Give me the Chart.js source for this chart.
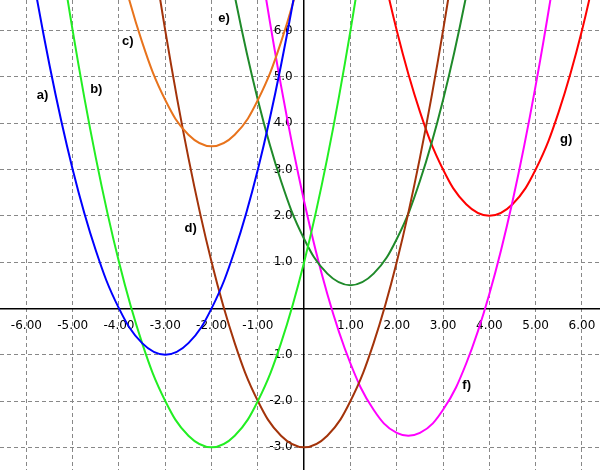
<!DOCTYPE html>
<html>
<head>
<meta charset="utf-8">
<script src="https://cdn.jsdelivr.net/npm/chart.js@4"></script>
<style>
  html, body { margin: 0; padding: 0; background: #fff; }
  #wrap { width: 600px; height: 470px; }
</style>
</head>
<body>
<div id="wrap"><canvas id="myParabolas" width="600" height="470"></canvas></div>
<script>
// sample x positions shared by all curves
var xs = [-6.5, -6, -5.5, -5, -4.5, -4, -3.5, -3, -2.5, -2, -1.5, -1, -0.5, 0,
          0.5, 1, 1.5, 2, 2.5, 3, 3.5, 4, 4.5, 5, 5.5, 6, 6.5];

// curve values (null = off the chart)
var a_values = [11.25, 8, 5.25, 3, 1.25, 0, -0.75, -1, -0.75, 0, 1.25, 3, 5.25, 8,
                11.25, null, null, null, null, null, null, null, null, null, null, null, null];
var b_values = [null, 13, 9.25, 6, 3.25, 1, -0.75, -2, -2.75, -3, -2.75, -2, -0.75, 1,
                3.25, 6, 9.25, 13, null, null, null, null, null, null, null, null, null];
var c_values = [null, null, null, 12.5, 9.75, 7.5, 5.75, 4.5, 3.75, 3.5, 3.75, 4.5, 5.75, 7.5,
                9.75, 12.5, null, null, null, null, null, null, null, null, null, null, null];
var d_values = [null, null, null, null, null, 13, 9.25, 6, 3.25, 1, -0.75, -2, -2.75, -3,
                -2.75, -2, -0.75, 1, 3.25, 6, 9.25, 13, null, null, null, null, null];
var e_values = [null, null, null, null, null, null, null, null, 12.75, 9.5, 6.75, 4.5, 2.75, 1.5,
                0.75, 0.5, 0.75, 1.5, 2.75, 4.5, 6.75, 9.5, 12.75, null, null, null, null];
var f_values = [null, null, null, null, null, null, null, null, null, null, 11.31, 7.81, 4.81, 2.31,
                0.31, -1.19, -2.19, -2.69, -2.69, -2.19, -1.19, 0.31, 2.31, 4.81, 7.81, 11.31, null];
var g_values = [null, null, null, null, null, null, null, null, null, null, null, null, null, null,
                null, 11, 8.25, 6, 4.25, 3, 2.25, 2, 2.25, 3, 4.25, 6, 8.25];

var seriesNames = ["a)", "b)", "c)", "d)", "e)", "f)", "g)"];
var seriesValues = [a_values, b_values, c_values, d_values, e_values, f_values, g_values];
var seriesColors = ["#0000ff", "#22ee22", "#e8731c", "#a3330a", "#1f8a2a", "#ff00ff", "#ff0000"];

// where the curve names sit (data units)
var labelX = [-5.65, -4.49, -3.81, -2.45, -1.73, 3.51, 5.66];
var labelY = [4.60, 4.73, 5.76, 1.73, 6.27, -1.66, 3.64];

// axis ticks
var xTickValues = [-6, -5, -4, -3, -2, -1, 1, 2, 3, 4, 5, 6];
var xTickLabels = ["-6.00", "-5.00", "-4.00", "-3.00", "-2.00", "-1.00",
                   "1.00", "2.00", "3.00", "4.00", "5.00", "6.00"];
var yTickValues = [-3, -2, -1, 1, 2, 3, 4, 5, 6];
var yTickLabels = ["-3.0", "-2.0", "-1.0", "1.0", "2.0", "3.0", "4.0", "5.0", "6.0"];

var datasets = seriesValues.map(function (vals, i) {
  var pts = [];
  xs.forEach(function (x, j) {
    if (vals[j] !== null) pts.push({ x: x, y: vals[j] });
  });
  return {
    label: seriesNames[i],
    data: pts,
    showLine: true,
    borderColor: seriesColors[i],
    borderWidth: 2,
    pointRadius: 0,
    tension: 0.4,
    fill: false
  };
});

// writes a), b) ... next to the curves
var curveNames = {
  id: "curveNames",
  afterDatasetsDraw: function (chart) {
    var ctx = chart.ctx;
    ctx.save();
    ctx.font = 'bold 13px "Liberation Sans Narrow", "Liberation Sans", sans-serif';
    ctx.fillStyle = "#000";
    ctx.textAlign = "center";
    ctx.textBaseline = "middle";
    seriesNames.forEach(function (name, i) {
      ctx.fillText(name, chart.scales.x.getPixelForValue(labelX[i]),
                   chart.scales.y.getPixelForValue(labelY[i]));
    });
    ctx.restore();
  }
};

// axes sit inside the plot, so they take no room
function noRoom(s) {
  if (s.isHorizontal()) s.height = 0; else s.width = 0;
  s.paddingTop = 0;
  s.paddingBottom = 0;
  s.paddingLeft = 0;
  s.paddingRight = 0;
}

new Chart("myParabolas", {
  type: "scatter",
  data: { datasets: datasets },
  plugins: [curveNames],
  options: {
    responsive: false,
    animation: false,
    layout: { padding: 0 },
    plugins: { legend: { display: false }, tooltip: { enabled: false } },
    scales: {
      x: {
        type: "linear",
        position: { y: 0 },
        min: -6.57,
        max: 6.39,
        afterFit: noRoom,
        afterBuildTicks: function (s) {
          s.ticks = xTickValues.map(function (v) { return { value: v }; });
        },
        grid: { color: "#888", lineWidth: 1, drawTicks: false },
        border: { color: "#000", width: 1.5, dash: [4, 3] },
        ticks: {
          padding: 10,
          maxRotation: 0,
          autoSkip: false,
          color: "#000",
          font: { family: "DejaVu Sans", size: 12 },
          callback: function (v, i) { return xTickLabels[i]; }
        }
      },
      y: {
        type: "linear",
        position: { x: 0 },
        min: -3.49,
        max: 6.66,
        afterFit: noRoom,
        afterBuildTicks: function (s) {
          s.ticks = yTickValues.map(function (v) { return { value: v }; });
        },
        grid: { color: "#888", lineWidth: 1, drawTicks: false },
        border: { color: "#000", width: 1.5, dash: [4, 3] },
        ticks: {
          padding: 10,
          autoSkip: false,
          color: "#000",
          font: { family: "DejaVu Sans", size: 12 },
          // labels stand a little left of the axis
          callback: function (v, i) { return yTickLabels[i] + "\u00a0\u00a0\u00a0"; }
        }
      }
    }
  }
});
</script>
</body>
</html>
